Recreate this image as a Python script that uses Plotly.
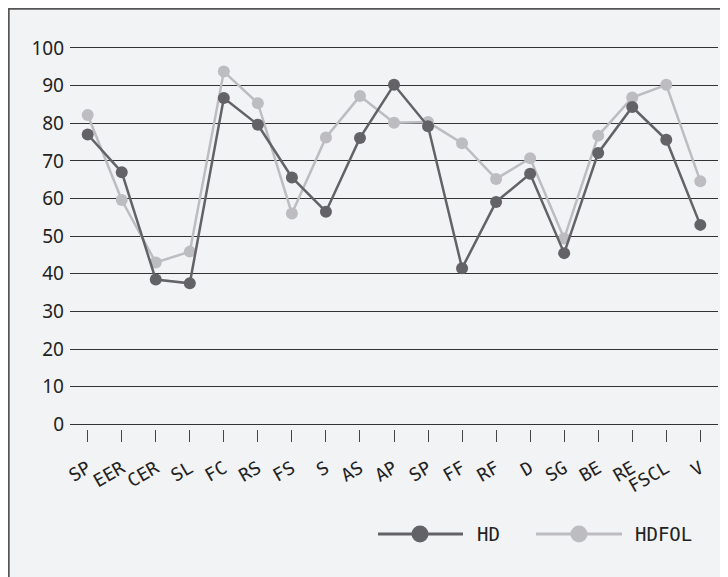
import plotly.graph_objects as go

categories = ["SP", "EER", "CER", "SL", "FC", "RS", "FS", "S", "AS", "AP",
              "SP ", "FF", "RF", "D", "SG", "BE", "RE", "FSCL", "V"]
hd = [77, 67, 38.5, 37.5, 86.7, 79.6, 65.6, 56.5, 76.1, 90.2,
      79.2, 41.5, 59.1, 66.6, 45.5, 72.1, 84.3, 75.6, 53.0]
hdfol = [82.2, 59.6, 43.0, 45.9, 93.7, 85.3, 56.0, 76.2, 87.2, 80.1,
         80.3, 74.7, 65.2, 70.7, 49.4, 76.7, 86.8, 90.2, 64.6]
series_names = ["HD", "HDFOL"]
y_ticks = [0, 10, 20, 30, 40, 50, 60, 70, 80, 90, 100]

DARK = "#636367"
LIGHT = "#bdbdc1"
BG = "#f2f3f5"
GRID = "#333333"

W, H = 728, 577
OFF = 8  # default page margin of the html body
ML, MR, MT, MB = 62, 18, 38, 156
PW = W - ML - MR
PH = H - MT - MB
Y0, Y1 = -1.2, 100.5

def px_x(page_x):
    return (page_x - OFF - ML) / PW

def px_y(page_y):
    return (H - MB - (page_y - OFF)) / PH

fig = go.Figure()
x_idx = list(range(len(categories)))
for name, vals, col in [(series_names[1], hdfol, LIGHT), (series_names[0], hd, DARK)]:
    fig.add_trace(go.Scatter(
        x=x_idx, y=vals, name=name, mode="lines+markers",
        line=dict(color=col, width=2.5),
        marker=dict(color=col, size=12),
        showlegend=False, cliponaxis=False,
    ))

shapes = []
annotations = []
# outer border
shapes.append(dict(type="rect", xref="paper", yref="paper",
                   x0=px_x(8.8), x1=px_x(760), y0=px_y(600), y1=px_y(8.8),
                   line=dict(color="#555555", width=1.8), fillcolor="rgba(0,0,0,0)",
                   layer="below"))

# custom legend
legend_items = [
    (series_names[0], DARK, 378, 463, 420, 475),
    (series_names[1], LIGHT, 536, 622, 579, 633),
]
ly = px_y(534)
for name, col, lx0, lx1, mx, tx in legend_items:
    shapes.append(dict(type="line", xref="paper", yref="paper",
                       x0=px_x(lx0), x1=px_x(lx1), y0=ly, y1=ly,
                       line=dict(color=col, width=3)))
    shapes.append(dict(type="circle", xref="paper", yref="paper",
                       xsizemode="pixel", ysizemode="pixel",
                       xanchor=px_x(mx), yanchor=ly,
                       x0=-8.5, x1=8.5, y0=-8.5, y1=8.5,
                       fillcolor=col, line=dict(color=col, width=0)))
    annotations.append(dict(xref="paper", yref="paper", x=px_x(tx), y=ly,
                            xanchor="left", yanchor="middle", showarrow=False,
                            text=name,
                            font=dict(family="DejaVu Sans Mono", size=19, color="#222222")))

fig.update_layout(
    width=W, height=H,
    margin=dict(l=ML, r=MR, t=MT, b=MB),
    paper_bgcolor=BG, plot_bgcolor=BG,
    shapes=shapes, annotations=annotations,
    showlegend=False,
)
fig.update_xaxes(
    range=[-0.52, len(categories) - 0.48],
    tickmode="array", tickvals=x_idx, ticktext=[c.strip() for c in categories],
    tickangle=-30,
    tickfont=dict(family="DejaVu Sans Mono", size=18, color="#222222"),
    ticks="outside", ticklen=12, tickcolor="#444444", tickwidth=1,
    showgrid=False, zeroline=False, showline=False,
    ticklabelstandoff=9,
)
fig.update_yaxes(
    range=[Y0, Y1], tickvals=y_ticks,
    tickfont=dict(family="Noto Sans", size=19, color="#222222"),
    showgrid=True, gridcolor=GRID, gridwidth=1,
    zeroline=True, zerolinecolor=GRID, zerolinewidth=1,
    showline=False, ticks="",
    ticklabelstandoff=5,
)

fig.write_html("out.html")
